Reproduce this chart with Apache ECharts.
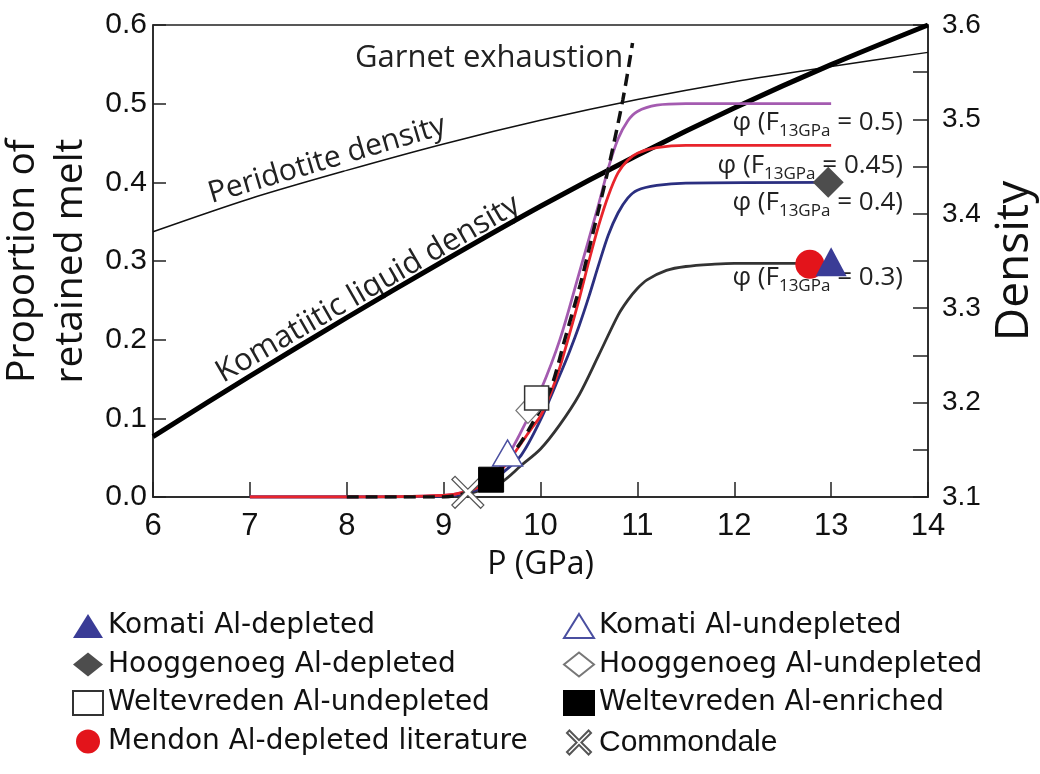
<!DOCTYPE html>
<html><head><meta charset="utf-8">
<script src="https://cdn.jsdelivr.net/npm/echarts/dist/echarts.min.js"></script>
<style>html,body{margin:0;padding:0;background:#fff}#c{width:1040px;height:774px}</style>
</head><body><div id="c"></div>
<script>
// ---- data ----
const pressureRange = [6, 14];
const meltRange = [0, 0.6];
const densityRange = [3.1, 3.6];

const curveF050 = [[7,0],[8,0],[9,0.002],[9.2,0.006],[9.4,0.016],[9.6,0.04],[9.8,0.083],[10.0,0.135],[10.2,0.2],[10.4,0.285],[10.6,0.372],[10.7,0.418],[10.8,0.455],[10.9,0.478],[11.0,0.49],[11.2,0.498],[11.5,0.5],[13,0.5]];
const curveF045 = [[7,0],[8,0],[9,0.002],[9.2,0.006],[9.4,0.015],[9.6,0.035],[9.8,0.068],[9.9,0.086],[10.0,0.103],[10.1,0.13],[10.2,0.165],[10.4,0.252],[10.5,0.3],[10.6,0.345],[10.7,0.383],[10.8,0.412],[10.9,0.428],[11.0,0.437],[11.2,0.444],[11.5,0.447],[13,0.447]];
const curveF040 = [[7,0],[8,0],[9,0.001],[9.2,0.004],[9.4,0.012],[9.6,0.03],[9.8,0.053],[10.0,0.098],[10.2,0.155],[10.3,0.185],[10.4,0.218],[10.5,0.255],[10.6,0.295],[10.7,0.333],[10.8,0.361],[10.9,0.38],[11.0,0.39],[11.2,0.396],[11.5,0.399],[13,0.4]];
const curveF030 = [[7,0],[8,0],[9,0.001],[9.2,0.003],[9.4,0.009],[9.6,0.019],[9.8,0.04],[10.0,0.061],[10.2,0.092],[10.4,0.13],[10.6,0.18],[10.8,0.231],[10.9,0.25],[11.0,0.265],[11.1,0.276],[11.3,0.288],[11.5,0.293],[11.8,0.296],[12,0.297],[13,0.297]];
const garnetExhaustion = [[8,0],[9,0],[9.2,0.004],[9.35,0.01],[9.5,0.022],[9.65,0.045],[9.8,0.07],[9.9,0.09],[10.1,0.136],[10.25,0.2],[10.41,0.27],[10.55,0.34],[10.69,0.412],[10.85,0.505],[10.95,0.577]];

const komatiiteDensity = [[6,3.164],[7,3.228],[8,3.290],[9,3.350],[10,3.408],[11,3.462],[12,3.512],[13,3.558],[14,3.600]];
const peridotiteDensity = [[6,3.381],[7,3.416],[8,3.446],[9,3.474],[10,3.499],[11,3.521],[12,3.540],[13,3.556],[14,3.571]];

const komatiDepleted = [[13.0,0.299]];
const komatiUndepleted = [[9.66,0.056]];
const hooggenoegDepleted = [[12.97,0.4]];
const hooggenoegUndepleted = [[9.87,0.11]];
const weltevredenUndepleted = [[9.96,0.126]];
const weltevredenEnriched = [[9.49,0.022]];
const mendonLiterature = [[12.78,0.296]];
const commondale = [[9.25,0.006]];

const legendLeft = ['Komati Al-depleted','Hooggenoeg Al-depleted','Weltevreden Al-undepleted','Mendon Al-depleted literature'];
const legendRight = ['Komati Al-undepleted','Hooggenoeg Al-undepleted','Weltevreden Al-enriched','Commondale'];
const phiLabels = ['0.5','0.45','0.4','0.3'];

// ---- chart ----
const chart = echarts.init(document.getElementById('c'));
const tickFont = "'Liberation Sans',Arial,sans-serif";
const txtFont = "'Open Sans','Noto Sans',sans-serif";
const wideFont = "'DejaVu Sans',sans-serif";
const axisCol = '#222';
const xPath = 'path://M0,2 L2,0 L10,8 L18,0 L20,2 L12,10 L20,18 L18,20 L10,12 L2,20 L0,18 L8,10 Z';

function curve(name, data, color, z) {
  return {name, type:'line', data, yAxisIndex:0, showSymbol:false, symbol:'none', smooth:0.3,
    lineStyle:{color, width:2.8}, z, silent:true};
}
function pts(name, data, symbol, size, fill, border, bw) {
  return {name, type:'scatter', data, yAxisIndex:0, symbol, symbolSize:size,
    itemStyle:{color:fill, borderColor:border, borderWidth:bw, opacity:1}, z:5};
}
function phi(val, x, y) {
  return {type:'text', x, y, z:1, style:{text:'{m|φ (F}{s|13GPa}{m| = '+val+')}', align:'right', verticalAlign:'middle',
    rich:{m:{fontSize:26, fontFamily:txtFont, fill:'#222', color:'#222', lineHeight:34},
          s:{fontSize:17, fontFamily:txtFont, fill:'#222', color:'#222', lineHeight:34, verticalAlign:'bottom'}}}};
}
function legItems(names) {
  return names.map(n => n === 'Commondale'
    ? {name:n, textStyle:{fontFamily:tickFont, fontSize:30}}
    : {name:n, textStyle:{fontFamily:wideFont, fontSize:28}});
}

chart.setOption({
  animation:false,
  grid:{left:153, right:112, top:25, bottom:277, outerBoundsMode:'none', containLabel:false,
        show:true, borderColor:axisCol, borderWidth:1.5, backgroundColor:'transparent'},
  xAxis:{type:'value', min:pressureRange[0], max:pressureRange[1], interval:1,
    axisLine:{lineStyle:{color:axisCol, width:1.5}}, axisTick:{inside:true, length:15, lineStyle:{color:axisCol, width:1.5}},
    axisLabel:{fontSize:31, fontFamily:tickFont, color:'#111', margin:14}, splitLine:{show:false},
    name:'P (GPa)', nameLocation:'middle', nameGap:52, nameTextStyle:{fontSize:32, fontFamily:txtFont, color:'#111'}},
  yAxis:[
    {type:'value', min:meltRange[0], max:meltRange[1], interval:0.1, position:'left',
     axisLine:{show:true, lineStyle:{color:axisCol, width:1.5}}, axisTick:{show:true, inside:true, length:13, lineStyle:{color:axisCol, width:1.5}},
     axisLabel:{fontSize:30, fontFamily:tickFont, color:'#111', margin:6, formatter:v=>v.toFixed(1)},
     splitLine:{show:false},
     name:'Proportion of\nretained melt', nameLocation:'middle', nameRotate:90, nameGap:56,
     nameTextStyle:{fontSize:39, fontFamily:txtFont, color:'#111', lineHeight:48}},
    {type:'value', min:densityRange[0], max:densityRange[1], interval:0.05, position:'right',
     axisLine:{show:true, lineStyle:{color:axisCol, width:1.5}}, axisTick:{show:true, inside:true, length:15, lineStyle:{color:axisCol, width:1.5}},
     axisLabel:{fontSize:28, fontFamily:tickFont, color:'#111', margin:14,
       formatter:v=>{const t=v*10; return Math.abs(t-Math.round(t))<1e-6 ? v.toFixed(1) : '';}},
     splitLine:{show:false},
     name:'Density', nameLocation:'middle', nameRotate:90, nameGap:62,
     nameTextStyle:{fontSize:46, fontFamily:txtFont, color:'#111'}}
  ],
  legend:[
    {orient:'vertical', left:72, top:612, padding:0, itemWidth:30, itemHeight:24, itemGap:10.5, selectedMode:false, data:legItems(legendLeft),
     textStyle:{fontSize:28, fontFamily:wideFont, color:'#111'}},
    {orient:'vertical', left:563, top:612, padding:0, itemWidth:30, itemHeight:24, itemGap:10.5, selectedMode:false, data:legItems(legendRight),
     textStyle:{fontSize:28, fontFamily:wideFont, color:'#111'}}
  ],
  graphic:[
    {type:'text', x:355, y:58, z:1, style:{text:'Garnet exhaustion', font:'31px '+txtFont, fill:'#222', align:'left', verticalAlign:'middle'}},
    {type:'text', x:327, y:160, rotation:16.5*Math.PI/180, z:1, style:{text:'Peridotite density', font:'30px '+txtFont, fill:'#222', align:'center', verticalAlign:'middle'}},
    {type:'text', x:368, y:289, rotation:30*Math.PI/180, z:1, style:{text:'Komatiitic liquid density', font:'31px '+txtFont, fill:'#222', align:'center', verticalAlign:'middle'}},
    phi(phiLabels[0], 903, 123),
    phi(phiLabels[1], 903, 166),
    phi(phiLabels[2], 903, 203),
    phi(phiLabels[3], 903, 278)
  ],
  series:[
    {name:'Peridotite density', type:'line', yAxisIndex:1, data:peridotiteDensity, symbol:'none', smooth:0.3, lineStyle:{color:'#111', width:1.5}, z:2, silent:true},
    {name:'Komatiitic liquid density', type:'line', yAxisIndex:1, data:komatiiteDensity, symbol:'none', smooth:0.3, lineStyle:{color:'#000', width:5}, z:2, silent:true},
    curve('φ (F13GPa = 0.3)', curveF030, '#333333', 3),
    curve('φ (F13GPa = 0.4)', curveF040, '#2b2f80', 3),
    curve('φ (F13GPa = 0.5)', curveF050, '#a45bb0', 3),
    curve('φ (F13GPa = 0.45)', curveF045, '#e8242b', 3),
    {name:'Garnet exhaustion', type:'line', yAxisIndex:0, data:garnetExhaustion, symbol:'none', smooth:0.3, lineStyle:{color:'#111', width:3.5, type:[12,7]}, z:4, silent:true},
    pts('Commondale', commondale, xPath, [32,32], '#fff', '#555', 1.2),
    pts('Weltevreden Al-enriched', weltevredenEnriched, 'rect', [25,25], '#000', '#000', 1),
    pts('Komati Al-undepleted', komatiUndepleted, 'triangle', [30,26], '#fff', '#4a4fa0', 1.5),
    pts('Hooggenoeg Al-undepleted', hooggenoegUndepleted, 'diamond', [24,26], '#fff', '#777', 1.2),
    pts('Weltevreden Al-undepleted', weltevredenUndepleted, 'rect', [24,24], '#fff', '#333', 1.5),
    pts('Mendon Al-depleted literature', mendonLiterature, 'circle', [29,29], '#e3141b', '#e3141b', 0),
    pts('Komati Al-depleted', komatiDepleted, 'triangle', [31,29], '#3a3c96', '#3a3c96', 0),
    pts('Hooggenoeg Al-depleted', hooggenoegDepleted, 'diamond', [31,31], '#4d4d4d', '#4d4d4d', 0)
  ]
});
</script></body></html>
